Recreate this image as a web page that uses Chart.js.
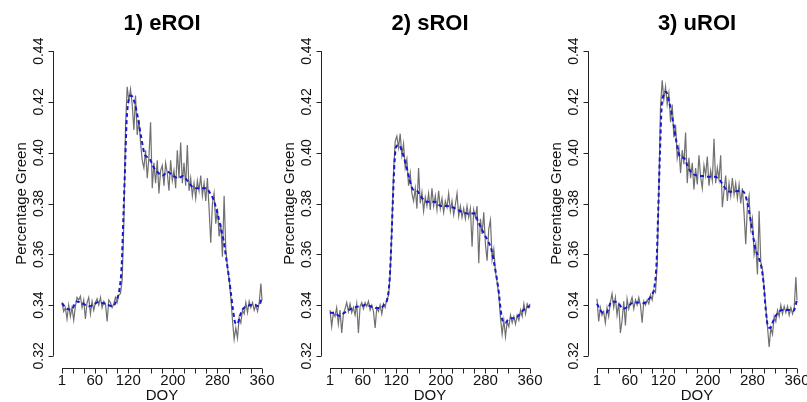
<!DOCTYPE html>
<html>
<head>
<meta charset="utf-8">
<script src="https://cdn.jsdelivr.net/npm/chart.js@4.4.0/dist/chart.umd.min.js"></script>
<style>
  html, body { margin: 0; padding: 0; background: #fff; overflow: hidden; }
  #wrap { position: relative; width: 807px; height: 402px; overflow: hidden; }
  canvas { position: absolute; top: 0; }
</style>
</head>
<body>
<div id="wrap">
  <canvas id="c1" width="280" height="412" style="left:0px"></canvas>
  <canvas id="c2" width="280" height="412" style="left:268px"></canvas>
  <canvas id="c3" width="280" height="412" style="left:535px"></canvas>
</div>
<script>
const titles = ['1) eROI', '2) sROI', '3) uROI'];

// daily-ish observations (gray)
const doy = [1,4,7,10,13,16,19,22,25,28,
  31,34,37,40,43,46,49,52,55,58,
  61,64,67,70,73,76,79,82,85,88,
  91,94,97,100,103,106,109,112,115,118,
  121,124,127,130,133,136,139,142,145,148,
  151,154,157,160,163,166,169,172,175,178,
  181,184,187,190,193,196,199,202,205,208,
  211,214,217,220,223,226,229,232,235,238,
  241,244,247,250,253,256,259,262,265,268,
  271,274,277,280,283,286,289,292,295,298,
  301,304,307,310,313,316,319,322,325,328,
  331,334,337,340,343,346,349,352,355,358,
  360];

const greenE = [0.3410,0.3375,0.3390,0.3345,0.3400,0.3355,0.3390,0.3340,0.3395,0.3430,
  0.3420,0.3435,0.3390,0.3420,0.3345,0.3410,0.3430,0.3365,0.3415,0.3380,
  0.3410,0.3425,0.3400,0.3430,0.3390,0.3415,0.3405,0.3335,0.3420,0.3410,
  0.3390,0.3405,0.3430,0.3410,0.3440,0.3445,0.3500,0.3720,0.4100,0.4260,
  0.4205,0.4250,0.4190,0.4090,0.4225,0.4070,0.4130,0.4040,0.3970,0.3940,
  0.4010,0.3900,0.3980,0.4120,0.3860,0.3960,0.3880,0.3970,0.3840,0.3930,
  0.3950,0.3870,0.3960,0.3920,0.3850,0.3970,0.3890,0.3930,0.3860,0.4010,
  0.3900,0.4040,0.3880,0.3960,0.3870,0.4030,0.3850,0.3900,0.3830,0.3880,
  0.3820,0.3890,0.3850,0.3910,0.3830,0.3880,0.3810,0.3900,0.3780,0.3645,
  0.3800,0.3840,0.3720,0.3780,0.3670,0.3720,0.3590,0.3830,0.3620,0.3550,
  0.3500,0.3430,0.3340,0.3265,0.3310,0.3270,0.3350,0.3330,0.3380,0.3365,
  0.3410,0.3370,0.3415,0.3390,0.3410,0.3380,0.3400,0.3375,0.3410,0.3485,
  0.3420];

const greenS = [0.3380,0.3315,0.3370,0.3355,0.3390,0.3325,0.3380,0.3290,0.3365,0.3385,
  0.3410,0.3375,0.3405,0.3370,0.3390,0.3360,0.3405,0.3290,0.3395,0.3410,
  0.3385,0.3410,0.3395,0.3415,0.3380,0.3400,0.3375,0.3310,0.3390,0.3375,
  0.3400,0.3365,0.3405,0.3390,0.3425,0.3435,0.3520,0.3700,0.3920,0.4045,
  0.4065,0.4020,0.4075,0.3990,0.4035,0.3940,0.3975,0.3870,0.3920,0.3840,
  0.3810,0.3860,0.3780,0.3940,0.3800,0.3845,0.3770,0.3825,0.3790,0.3840,
  0.3775,0.3860,0.3790,0.3830,0.3775,0.3850,0.3780,0.3820,0.3765,0.3810,
  0.3785,0.3840,0.3770,0.3810,0.3755,0.3795,0.3840,0.3750,0.3790,0.3745,
  0.3780,0.3740,0.3790,0.3745,0.3780,0.3630,0.3775,0.3745,0.3790,0.3565,
  0.3740,0.3680,0.3765,0.3640,0.3575,0.3700,0.3735,0.3580,0.3620,0.3530,
  0.3490,0.3440,0.3350,0.3285,0.3340,0.3275,0.3335,0.3315,0.3360,0.3330,
  0.3355,0.3325,0.3360,0.3340,0.3380,0.3355,0.3405,0.3365,0.3405,0.3390,
  0.3405];

const greenU = [0.3425,0.3335,0.3390,0.3360,0.3375,0.3330,0.3390,0.3355,0.3410,0.3445,
  0.3390,0.3430,0.3360,0.3410,0.3290,0.3340,0.3415,0.3320,0.3425,0.3385,
  0.3410,0.3430,0.3385,0.3420,0.3400,0.3430,0.3400,0.3330,0.3415,0.3400,
  0.3420,0.3405,0.3440,0.3420,0.3460,0.3450,0.3560,0.3850,0.4180,0.4285,
  0.4210,0.4260,0.4190,0.4235,0.4120,0.4190,0.4060,0.4110,0.3980,0.4020,
  0.3920,0.4010,0.3955,0.4080,0.3880,0.3980,0.3900,0.3960,0.3855,0.3940,
  0.3875,0.3990,0.3905,0.3860,0.3950,0.3910,0.3985,0.3870,0.3930,0.3890,
  0.4055,0.3880,0.3940,0.3895,0.3990,0.3785,0.3850,0.3910,0.3810,0.3880,
  0.3830,0.3900,0.3835,0.3880,0.3820,0.3875,0.3800,0.3860,0.3760,0.3640,
  0.3790,0.3830,0.3700,0.3740,0.3600,0.3640,0.3520,0.3770,0.3570,0.3540,
  0.3470,0.3390,0.3315,0.3235,0.3310,0.3285,0.3355,0.3335,0.3380,0.3355,
  0.3400,0.3365,0.3395,0.3370,0.3395,0.3360,0.3390,0.3365,0.3390,0.3510,
  0.3420];

// smoothed curve (blue dashed)
const doySmooth = [1,10,18,27,38,48,57,66,75,84,
  92,99,104,108,111,114,117,120,125,131,
  137,143,150,157,165,174,182,190,200,210,
  218,226,233,240,250,260,267,273,279,285,
  291,296,300,304,308,312,316,320,326,333,
  340,347,354,360];

const smoothE = [0.3407,0.3385,0.3382,0.3414,0.3407,0.3394,0.3400,0.3412,0.3407,0.3400,
  0.3395,0.3420,0.3460,0.3550,0.3735,0.3930,0.4125,0.4200,0.4225,0.4200,
  0.4140,0.4063,0.3990,0.3980,0.3945,0.3920,0.3910,0.3925,0.3910,0.3900,
  0.3908,0.3890,0.3870,0.3860,0.3860,0.3860,0.3840,0.3815,0.3770,0.3715,
  0.3655,0.3580,0.3520,0.3450,0.3380,0.3330,0.3325,0.3355,0.3385,0.3395,
  0.3400,0.3400,0.3395,0.3430];

const smoothS = [0.3370,0.3368,0.3357,0.3370,0.3384,0.3392,0.3397,0.3400,0.3394,0.3388,
  0.3388,0.3405,0.3425,0.3500,0.3640,0.3820,0.3970,0.4025,0.4030,0.4000,
  0.3955,0.3900,0.3855,0.3850,0.3825,0.3807,0.3807,0.3806,0.3790,0.3790,
  0.3788,0.3780,0.3772,0.3765,0.3760,0.3762,0.3728,0.3700,0.3675,0.3650,
  0.3617,0.3560,0.3510,0.3450,0.3370,0.3333,0.3330,0.3340,0.3348,0.3348,
  0.3360,0.3378,0.3390,0.3396];

const smoothU = [0.3405,0.3372,0.3370,0.3414,0.3410,0.3385,0.3395,0.3410,0.3410,0.3407,
  0.3418,0.3440,0.3470,0.3570,0.3780,0.4000,0.4180,0.4225,0.4240,0.4195,
  0.4130,0.4050,0.3985,0.3980,0.3940,0.3915,0.3910,0.3908,0.3905,0.3905,
  0.3900,0.3878,0.3855,0.3846,0.3848,0.3850,0.3835,0.3780,0.3705,0.3625,
  0.3588,0.3550,0.3486,0.3380,0.3315,0.3310,0.3330,0.3350,0.3370,0.3380,
  0.3380,0.3380,0.3378,0.3420];

const xTicks = [1,20,40,60,80,100,120,140,160,180,200,220,240,260,280,300,320,340,360];
const xTickLabels = ['1','','','60','','','120','','','','200','','','','280','','','','360'];
const yTicks = [0.32,0.34,0.36,0.38,0.40,0.42,0.44];

const FONT = '"Liberation Sans", Arial, Helvetica, sans-serif';

// R style axes: lines only between first and last tick, rotated y labels
const rAxes = {
  id: 'rAxes',
  afterDraw(chart, args, opts) {
    const {ctx, chartArea: a, scales: {x, y}} = chart;
    ctx.save();
    ctx.strokeStyle = '#222';
    ctx.fillStyle = '#111';
    ctx.lineWidth = 1;

    const x0 = x.getPixelForValue(xTicks[0]);
    const x1 = x.getPixelForValue(xTicks[xTicks.length - 1]);
    const yb = Math.round(a.bottom) + 0.5;
    const y0 = y.getPixelForValue(yTicks[0]);
    const y1 = y.getPixelForValue(yTicks[yTicks.length - 1]);
    const xl = Math.round(a.left) - 0.5;

    ctx.beginPath();
    ctx.moveTo(x0, yb);
    ctx.lineTo(x1, yb);
    xTicks.forEach(v => {
      const px = Math.round(x.getPixelForValue(v)) + 0.5;
      ctx.moveTo(px, yb);
      ctx.lineTo(px, yb + 5);
    });
    ctx.moveTo(xl, y0);
    ctx.lineTo(xl, y1);
    yTicks.forEach(v => {
      const py = Math.round(y.getPixelForValue(v)) + 0.5;
      ctx.moveTo(xl, py);
      ctx.lineTo(xl - 5, py);
    });
    ctx.stroke();

    ctx.textAlign = 'center';
    ctx.textBaseline = 'middle';
    ctx.font = '15px ' + FONT;
    xTickLabels.forEach((t, i) => {
      if (t) ctx.fillText(t, x.getPixelForValue(xTicks[i]), yb + 12);
    });
    ctx.fillText('DOY', (x0 + x1) / 2, yb + 27);

    ctx.font = '14px ' + FONT;
    yTicks.forEach(v => {
      ctx.save();
      ctx.translate(xl - 14.5, y.getPixelForValue(v));
      ctx.rotate(-Math.PI / 2);
      ctx.fillText(v.toFixed(2), 0, 0);
      ctx.restore();
    });
    ctx.save();
    ctx.font = '15px ' + FONT;
    ctx.translate(22, (y0 + y1) / 2);
    ctx.rotate(-Math.PI / 2);
    ctx.fillText('Percentage Green', 0, 0);
    ctx.restore();

    ctx.font = 'bold 22px ' + FONT;
    ctx.fillStyle = '#000';
    ctx.fillText(opts.title, (x0 + x1) / 2, 24);
    ctx.restore();
  }
};

function pts(days, vals) {
  return days.map((d, i) => ({x: d, y: vals[i]}));
}

function makePanel(id, title, green, smooth) {
  const ctx = document.getElementById(id).getContext('2d');
  return new Chart(ctx, {
    type: 'line',
    data: {
      datasets: [
        {
          data: pts(doy, green),
          borderColor: 'rgb(112,112,112)',
          borderWidth: 1.2,
          pointRadius: 0,
          tension: 0,
          order: 2
        },
        {
          data: pts(doySmooth, smooth),
          borderColor: 'rgb(24,24,205)',
          borderWidth: 2,
          borderDash: [4, 3],
          pointRadius: 0,
          cubicInterpolationMode: 'monotone',
          order: 1
        }
      ]
    },
    options: {
      responsive: false,
      animation: false,
      devicePixelRatio: 1,
      layout: { padding: { left: 54, right: 10, top: 39, bottom: 44 } },
      plugins: {
        legend: { display: false },
        tooltip: { enabled: false },
        rAxes: { title: title }
      },
      scales: {
        x: { type: 'linear', min: 1 - 0.04 * 359, max: 360 + 0.04 * 359, display: false },
        y: { type: 'linear', min: 0.32 - 0.0048, max: 0.44 + 0.0048, display: false }
      }
    },
    plugins: [rAxes]
  });
}

makePanel('c1', titles[0], greenE, smoothE);
makePanel('c2', titles[1], greenS, smoothS);
makePanel('c3', titles[2], greenU, smoothU);
</script>
</body>
</html>
